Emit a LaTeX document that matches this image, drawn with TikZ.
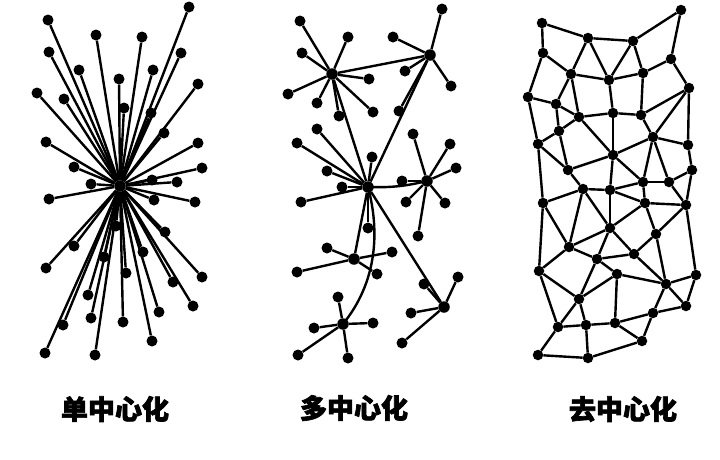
\documentclass[tikz,border=0pt]{standalone}
\usepackage{fontspec}
\newfontfamily\cjk{Noto Sans CJK SC}[BoldFeatures={FakeBold=2.5}]
\begin{document}
\begin{tikzpicture}[x=1pt,y=-1pt,
  dot/.style={circle,fill=black,inner sep=0pt,minimum size=11pt},
  hub/.style={circle,fill=black,inner sep=0pt,minimum size=11.5pt},
  ln/.style={line width=2.4pt,black},
  lab/.style={font=\cjk\bfseries\fontsize{27}{27}\selectfont,inner sep=0pt}]
\useasboundingbox[fill=white] (0,0) rectangle (720,459);
% ---------------- single centre ----------------
\node[hub] (Lc) at (120,186) {};
\foreach \x/\y [count=\i] in {48/20,96/35,142/37,189/7,49/52,181/53,79/70,153/70,119/79,198/84,
  37/93,64/99,124/108,151/113,164/133,46/142,198/143,74/167,202/168,91/184,177/182,152/180,
  49/199,154/200,195/202,165/232,74/246,143/252,104/257,46/268,126/273,202/277,173/282,
  88/295,193/306,159/312,91/318,123/322,63/325,152/341,45/353,95/355,116/226}
{ \node[dot] (L\i) at (\x,\y) {}; \draw[ln] (Lc) -- (L\i); }
% ---------------- multi centre ----------------
\node[hub] (A) at (332,74) {};
\node[hub] (B) at (430,55) {};
\node[hub] (C) at (368,187) {};
\node[hub] (D) at (427,181) {};
\node[hub] (E) at (354,259) {};
\node[hub] (F) at (343,324) {};
\node[hub] (G) at (444,307) {};
\draw[ln] (A) -- (B);
\draw[ln] (A) -- (C);
\draw[ln] (B) -- (C);
\draw[ln] (C) -- (E);
\draw[ln] (C) -- (G);
\draw[ln] (C.center) .. controls (395,188) and (410,185) .. (D.center);
\draw[ln] (C.center) .. controls (380,232) and (377,282) .. (F.center);
\foreach \x/\y [count=\i] in {300/21,348/37,302/53,369/79,288/94,317/103,339/116,373/112}
{ \node[dot] (A\i) at (\x,\y) {}; \draw[ln] (A) -- (A\i); }
\foreach \x/\y [count=\i] in {442/9,393/37,405/71,451/86,399/111}
{ \node[dot] (B\i) at (\x,\y) {}; \draw[ln] (B) -- (B\i); }
\foreach \x/\y [count=\i] in {317/129,297/143,372/157,327/171,342/187,301/202,368/228}
{ \node[dot] (C\i) at (\x,\y) {}; \draw[ln] (C) -- (C\i); }
\foreach \x/\y [count=\i] in {413/134,450/144,456/168,402/181,406/202,445/203,418/236}
{ \node[dot] (D\i) at (\x,\y) {}; \draw[ln] (D) -- (D\i); }
\foreach \x/\y [count=\i] in {327/248,392/252,297/272,377/274}
{ \node[dot] (E\i) at (\x,\y) {}; \draw[ln] (E) -- (E\i); }
\foreach \x/\y [count=\i] in {338/297,314/328,373/323,298/355,348/358}
{ \node[dot] (F\i) at (\x,\y) {}; \draw[ln] (F) -- (F\i); }
\foreach \x/\y [count=\i] in {458/277,424/284,411/313,402/343}
{ \node[dot] (G\i) at (\x,\y) {}; \draw[ln] (G) -- (G\i); }
% ---------------- decentralised mesh ----------------
\foreach \n/\x/\y in {n1/542/23,n2/588/38,n3/633/41,n4/681/10,n5/543/53,n6/571/74,n7/609/80,
  n8/643/73,n9/671/59,n10/689/88,n11/528/97,n12/556/104,n13/579/117,n14/613/113,n15/641/115,
  n16/559/131,n17/653/137,n18/538/144,n19/688/145,n20/613/155,n21/568/170,n22/692/170,
  n23/583/189,n24/610/190,n25/643/182,n26/669/182,m1/543/203,m6/645/203,m7/686/205,
  m8/610/228,m9/656/234,m10/569/247,m11/597/259,m12/634/254,m13/539/271,m14/617/274,
  m15/666/284,m16/696/275,m17/579/299,m18/686/306,m19/653/313,m20/558/327,m21/586/325,
  m22/615/323,m23/642/341,m24/538/355,m25/588/358}
{ \node[dot,minimum size=10.5pt] (\n) at (\x,\y) {}; }
\foreach \a/\b in {n1/n2,n2/n3,n3/n4,n1/n5,n4/n9,n2/n6,n2/n7,n3/n7,n3/n8,n5/n6,n6/n7,n7/n8,
  n8/n9,n9/n10,n5/n11,n6/n12,n6/n13,n7/n14,n8/n15,n11/n12,n10/n15,n10/n17,n10/n19,n13/n14,
  n14/n15,n12/n13,n12/n16,n13/n16,n11/n18,n16/n18,n13/n20,n14/n20,n15/n17,n17/n20,n17/n19,
  n16/n21,n18/n21,n20/n21,n17/n25,n17/n26,n19/n22,n20/n25,n21/n23,n22/n26,n20/n24,n25/n26,
  n25/n24,n23/n24,n23/m1,n23/m10,n23/m8,n24/m8,n25/m6,n26/m7,n22/m7,n24/m6,n18/m1,
  m6/m7,m6/m8,m6/m9,m7/m9,m1/m10,m1/m13,m10/m8,m7/m16,m8/m11,m8/m12,m9/m12,m9/m15,m10/m11,
  m10/m13,m11/m12,m11/m14,m11/m17,m12/m15,m14/m15,m14/m17,m14/m22,m13/m17,m13/m20,m15/m16,
  m15/m18,m16/m18,m15/m19,m18/m19,m17/m20,m17/m21,m20/m21,m21/m22,m19/m22,m22/m23,m19/m23,
  m20/m24,m21/m25,m24/m25,m25/m23}
{ \draw[ln] (\a) -- (\b); }
% ---------------- labels ----------------
\node[lab] (t1) at (115,409) {单中心化};
\node[lab] (t2) at (354,408) {多中心化};
\node[lab] (t3) at (623,409) {去中心化};
\end{tikzpicture}
\end{document}
